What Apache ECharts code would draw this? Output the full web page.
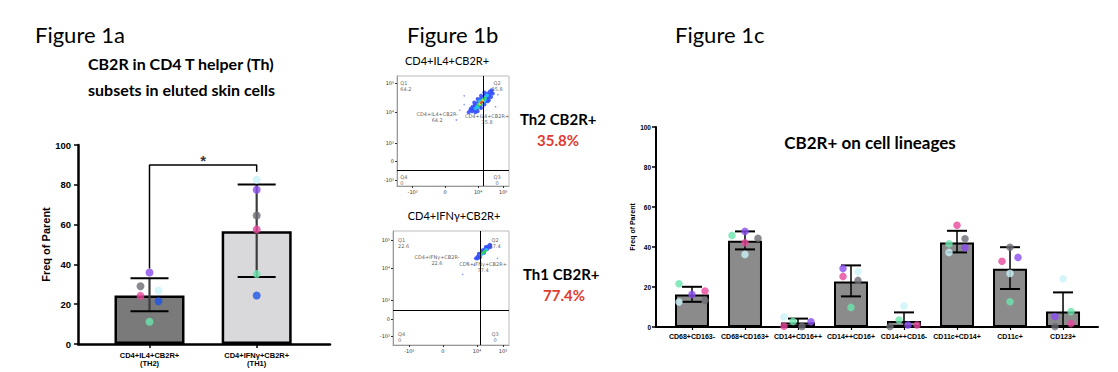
<!DOCTYPE html>
<html><head><meta charset="utf-8">
<script src="https://cdn.jsdelivr.net/npm/echarts@6/dist/echarts.min.js"></script>
<style>html,body{margin:0;padding:0;background:#fff}#c{width:1118px;height:372px}</style>
</head><body><div id="c"></div>
<script>
// ---------- Figure 1a data ----------
const TH_CATEGORIES = ['CD4+IL4+CB2R+\n(TH2)', 'CD4+IFNγ+CB2R+\n(TH1)'];
const TH_MEAN = [24.4, 56.6];
const TH_ERR_LOW = [16.4, 33.7];
const TH_ERR_HIGH = [33.1, 80.1];
const TH_PURPLE = [35.9, 77.5];
const TH_GRAY = [29.0, 64.6];
const TH_PINK = [24.2, 57.6];
const TH_CYAN = [26.9, 82.6];
const TH_BLUE = [21.5, 24.4];
const TH_GREEN = [11.2, 35.1];
const TH_BRACKET_LEFT_FOOT = 38;
const TH_BRACKET_TOP = 90;
const TH_BRACKET_RIGHT_FOOT = 86.5;
const TH_SIG_MARK = '*';
const Y_MIN = 0, Y_MAX = 100, Y_INTERVAL = 20;

// ---------- Figure 1b data (flow cytometry) ----------
const FLOW_X_TICKS = [140, 430, 724, 948];
const FLOW_X_LABELS = ['-10³', '0', '10⁴', '10⁵'];
const FLOW1_Y_TICKS = [54, 223, 393, 670, 938];
const FLOW2_Y_TICKS = [79, 228, 395, 675, 921];
const FLOW_Y_LABELS = ['-10³', '0', '10³', '10⁴', '10⁵'];
const FLOW1_TITLE = 'CD4+IL4+CB2R+';
const FLOW2_TITLE = 'CD4+IFNγ+CB2R+';
const FLOW1_QUAD = ['Q1\n64.2', 'Q2\n35.8', 'Q3\n0', 'Q4\n0'];
const FLOW2_QUAD = ['Q1\n22.6', 'Q2\n77.4', 'Q3\n0', 'Q4\n0'];
const FLOW1_GATES = ['CD4+IL4+CB2R-\n64.2', 'CD4+IL4+CB2R+\n35.8'];
const FLOW2_GATES = ['CD4+IFNγ+CB2R-\n22.6', 'CD4+IFNγ+CB2R+\n77.4'];
const FLOW1_GATE_X = 766, FLOW1_GATE_Y = 143;
const FLOW2_GATE_X = 756, FLOW2_GATE_Y = 307;
// events [x channel, y channel, density level 0..5] (0 = sparse outlier)
const FLOW1_EVENTS = [
  [560,690,0],[600,740,0],[900,830,0],[530,600,0],[880,720,0],[600,820,0],
  [640,670,1],[655,690,1],[670,680,1],[680,705,1],[690,690,1],[700,720,1],[715,705,1],[725,735,1],
  [740,725,1],[750,755,1],[765,745,1],[775,775,1],[790,770,1],[800,800,1],[815,795,1],[825,825,1],
  [840,850,1],[845,870,1],[830,860,1],[810,840,1],[795,830,1],[780,815,1],[765,800,1],[745,790,1],
  [730,770,1],[710,750,1],[695,735,1],[675,720,1],[660,705,1],[855,840,1],[820,780,1],[700,670,1],
  [690,760,1],[720,790,1],[750,820,1],[780,850,1],[720,680,1],[750,710,1],[780,740,1],[810,770,1],[840,810,1],
  [700,705,2],[715,725,2],[730,745,2],[745,765,2],[760,780,2],[775,795,2],[790,810,2],[805,825,2],[725,715,2],[780,770,2],
  [735,770,2],[765,745,2],[790,790,2],
  [725,735,3],[740,750,3],[755,765,3],[770,785,3],[785,800,3],[745,740,3],
  [740,745,4],[755,760,4],[765,775,4],
  [750,755,5],[758,765,5]
];
const FLOW2_EVENTS = [
  [700,700,0],[640,720,0],[600,620,0],[900,760,0],
  [715,760,1],[730,775,1],[745,790,1],[760,805,1],[775,820,1],[790,835,1],[805,850,1],[820,865,1],
  [835,880,1],[750,770,1],[785,810,1],[815,845,1],[740,800,1],[770,830,1],[800,860,1],[730,760,1],[840,860,1],
  [760,790,2],[775,805,2],[790,820,2],[805,835,2],
  [780,810,3],[795,825,3]
];
const TH2_LABEL = 'Th2 CB2R+', TH2_PCT = '35.8%';
const TH1_LABEL = 'Th1 CB2R+', TH1_PCT = '77.4%';

// ---------- Figure 1c data ----------
const LIN_CATEGORIES = ['CD68+CD163-','CD68+CD163+','CD14+CD16++','CD14++CD16+','CD14++CD16-','CD11c+CD14+','CD11c+','CD123+'];
const LIN_MEAN = [16.3, 43.1, 2.2, 22.8, 3.0, 42.3, 29.1, 7.7];
const LIN_ERR_LOW = [12.6, 38.8, 0.2, 15.3, 0, 37.3, 19.0, 0];
const LIN_ERR_HIGH = [20.1, 47.8, 4.2, 30.8, 7.3, 48.1, 39.9, 17.3];
const LIN_GREEN = [21.6, 45.8, 2.8, 9.8, 3.5, 41.6, 12.6, 7.7];
const LIN_PURPLE = [16.3, 47.8, 2.6, 29.3, 1.0, 39.6, 34.8, 5.2];
const LIN_PINK = [18.0, 42.1, 0.4, 25.3, 1.0, 50.9, 32.9, 1.7];
const LIN_CYAN = [12.5, 36.3, 5.0, 27.6, 10.5, 37.3, 26.8, 24.1];
const LIN_GRAY = [13.3, 44.4, 0.3, 23.3, 0.3, 44.1, 39.9, 0.2];

// ---------- styles / layout ----------
const C = {green:'#6be6ad', purple:'#8a4cf0', pink:'#e8479c', cyan:'#c9f3f8', gray:'#6e6c74', blue:'#1d55e8'};
const TH_JITTER = {purple:[0,0], gray:[-9,0], pink:[-9,0], cyan:[9,0], blue:[9,0], green:[0,0]};
const LIN_JITTER = {
  green:[-13,-13,-5,0,-5,-8,0,8], purple:[0,0,13,-8,4,8,8,-8], pink:[13,0,-14,-8,13,0,-8,8],
  cyan:[-13,0,-14,7,0,-8,0,0], gray:[13,13,4,7,-14,8,0,-8]
};
const AX = '"Liberation Sans", Arial, sans-serif';
const FLOWF = '"DejaVu Sans", sans-serif';
const DENS_COLORS = ['#7d93ff','#3550ff','#27c6f2','#35d24a','#f2e32c','#f03a2a'];
const DENS_SIZES = [1.6, 4, 3.4, 3, 2.6, 2.3];

const chart = echarts.init(document.getElementById('c'), null, {renderer:'svg'});

function errRender(halfW, vColor, vWidth) {
  return function (params, api) {
    const x = api.value(0), lo = Math.max(0, api.value(1)), hi = api.value(2);
    const a = api.coord([x, hi]), b = api.coord([x, lo]);
    const kids = [
      {type:'line', shape:{x1:a[0],y1:a[1],x2:b[0],y2:b[1]}, style:{stroke:vColor, lineWidth:vWidth}},
      {type:'line', shape:{x1:a[0]-halfW,y1:a[1],x2:a[0]+halfW,y2:a[1]}, style:{stroke:'#000', lineWidth:2}}
    ];
    if (lo > 0) kids.push({type:'line', shape:{x1:b[0]-halfW,y1:b[1],x2:b[0]+halfW,y2:b[1]}, style:{stroke:'#000', lineWidth:2}});
    return {type:'group', children:kids};
  };
}

function thPoints(vals, jit, color){
  return {type:'scatter', xAxisIndex:0, yAxisIndex:0, symbolSize:8, z:5, itemStyle:{color:color},
    data: vals.map((v,i)=>({value:[i+1, v], symbolOffset:[jit[i], 0]}))};
}

function flowAxes(gi, yTicks) {
  const lab = {fontSize:5, color:'#333', fontFamily:FLOWF};
  return {
    x: {gridIndex:gi, type:'value', min:0, max:1000, splitLine:{show:false},
        axisLine:{lineStyle:{color:'#999', width:1}},
        axisTick:{customValues:FLOW_X_TICKS, length:2, lineStyle:{color:'#333'}},
        axisLabel:Object.assign({customValues:FLOW_X_TICKS, margin:3,
          formatter:v=>FLOW_X_LABELS[FLOW_X_TICKS.indexOf(v)]}, lab)},
    y: {gridIndex:gi, type:'value', min:0, max:1000, splitLine:{show:false},
        axisLine:{lineStyle:{color:'#999', width:1}},
        axisTick:{customValues:yTicks, length:2, lineStyle:{color:'#333'}},
        axisLabel:Object.assign({customValues:yTicks, margin:3,
          formatter:v=>FLOW_Y_LABELS[yTicks.indexOf(v)]}, lab)}
  };
}
const f1 = flowAxes(1, FLOW1_Y_TICKS), f2 = flowAxes(2, FLOW2_Y_TICKS);

function flowSeries(ai, events, gx, gy, quad, gates, qAnchors, gAnchors) {
  const s = [];
  s.push({type:'scatter', xAxisIndex:ai, yAxisIndex:ai, data:[], silent:true,
    markLine:{symbol:'none', silent:true, animation:false, label:{show:false},
      lineStyle:{color:'#000', width:1, type:'solid'}, data:[{xAxis:gx},{yAxis:gy}]}});
  for (let d = 0; d <= 5; d++) {
    const pts = events.filter(e=>e[2]===d).map(e=>[e[0], e[1]]);
    if (!pts.length) continue;
    s.push({type:'scatter', xAxisIndex:ai, yAxisIndex:ai, symbolSize:DENS_SIZES[d], z:2+d,
      itemStyle:{color:DENS_COLORS[d], opacity:0.9}, data:pts, silent:true});
  }
  const lab = (txt, pos, align, vAlign) => ({value:pos, label:{show:true, formatter:txt, align:align, verticalAlign:vAlign}});
  s.push({type:'scatter', xAxisIndex:ai, yAxisIndex:ai, symbolSize:0.01, itemStyle:{color:'transparent'}, z:10, silent:true,
    label:{show:true, position:[0,0], fontSize:5, lineHeight:6, color:'#333', fontFamily:FLOWF},
    data:[
      lab(quad[0], qAnchors[0], 'left', 'top'), lab(quad[1], qAnchors[1], 'center', 'top'),
      lab(quad[2], qAnchors[2], 'center', 'top'), lab(quad[3], qAnchors[3], 'left', 'top'),
      lab(gates[0], gAnchors[0], 'center', 'middle'), lab(gates[1], gAnchors[1], 'center', 'middle')
    ]});
  return s;
}

const series = [];
// Figure 1a
series.push({type:'bar', xAxisIndex:0, yAxisIndex:0, barWidth:70, z:1,
  itemStyle:{borderColor:'#000', borderWidth:2.5},
  data: TH_MEAN.map((v,i)=>({value:[i+1, v], itemStyle:{color: i===0 ? '#7a7a7a' : '#d9d9dc'}}))});
series.push({type:'custom', xAxisIndex:0, yAxisIndex:0, z:3, renderItem: errRender(19, '#3c3c3c', 2.2),
  encode:{x:0, y:[1,2]}, data: TH_MEAN.map((v,i)=>[i+1, TH_ERR_LOW[i], TH_ERR_HIGH[i]])});
series.push(thPoints(TH_GREEN, TH_JITTER.green, C.green));
series.push(thPoints(TH_BLUE, TH_JITTER.blue, C.blue));
series.push(thPoints(TH_PINK, TH_JITTER.pink, C.pink));
series.push(thPoints(TH_GRAY, TH_JITTER.gray, C.gray));
series.push(thPoints(TH_CYAN, TH_JITTER.cyan, C.cyan));
series.push(thPoints(TH_PURPLE, TH_JITTER.purple, C.purple));
series.push({type:'line', xAxisIndex:0, yAxisIndex:0, symbol:'none', z:2, silent:true,
  lineStyle:{color:'#000', width:1.5},
  data:[[1, TH_BRACKET_LEFT_FOOT],[1, TH_BRACKET_TOP],[2, TH_BRACKET_TOP],[2, TH_BRACKET_RIGHT_FOOT]]});
series.push({type:'scatter', xAxisIndex:0, yAxisIndex:0, symbolSize:0.01, itemStyle:{color:'transparent'}, silent:true,
  label:{show:true, position:'inside', formatter:TH_SIG_MARK, fontFamily:AX, fontWeight:'bold', fontSize:15, color:'#000'},
  data:[[1.5, TH_BRACKET_TOP + 2]]});

// Figure 1b
series.push(...flowSeries(1, FLOW1_EVENTS, FLOW1_GATE_X, FLOW1_GATE_Y, FLOW1_QUAD, FLOW1_GATES,
  [[30,968],[893,968],[893,110],[30,110]], [[359,625],[804,607]]));
series.push(...flowSeries(2, FLOW2_EVENTS, FLOW2_GATE_X, FLOW2_GATE_Y, FLOW2_QUAD, FLOW2_GATES,
  [[43,945],[880,945],[880,125],[43,125]], [[379,746],[776,684]]));

// Figure 1c
series.push({type:'bar', xAxisIndex:3, yAxisIndex:3, barWidth:34, z:1,
  itemStyle:{color:'#8b8b8b', borderColor:'#000', borderWidth:2},
  data: LIN_MEAN.map((v,i)=>[i+1, v])});
series.push({type:'custom', xAxisIndex:3, yAxisIndex:3, z:3, renderItem: errRender(10, '#000', 1.5),
  encode:{x:0, y:[1,2]}, data: LIN_MEAN.map((v,i)=>[i+1, LIN_ERR_LOW[i], LIN_ERR_HIGH[i]])});
function linPoints(vals, jit, color){
  return {type:'scatter', xAxisIndex:3, yAxisIndex:3, symbolSize:7.5, z:5, itemStyle:{color:color},
    data: vals.map((v,i)=>({value:[i+1, v], symbolOffset:[jit[i], 0]}))};
}
series.push(linPoints(LIN_GREEN, LIN_JITTER.green, C.green));
series.push(linPoints(LIN_CYAN, LIN_JITTER.cyan, C.cyan));
series.push(linPoints(LIN_GRAY, LIN_JITTER.gray, C.gray));
series.push(linPoints(LIN_PINK, LIN_JITTER.pink, C.pink));
series.push(linPoints(LIN_PURPLE, LIN_JITTER.purple, C.purple));

const yAxBase = (gi, fs, name, gap, nfs, lw) => ({
  gridIndex:gi, type:'value', min:Y_MIN, max:Y_MAX, interval:Y_INTERVAL, splitLine:{show:false},
  axisLine:{show:true, lineStyle:{color:'#000', width:lw}},
  axisTick:{show:true, length:4, lineStyle:{color:'#000', width:1.5}},
  axisLabel:{fontFamily:AX, fontWeight:'bold', fontSize:fs, color:'#000', margin: fs>8?7:5},
  name:name, nameLocation:'middle', nameGap:gap,
  nameTextStyle:{fontFamily:AX, fontWeight:'bold', fontSize:nfs, color:'#000'}
});

const txt = (x, y, text, font, color, align) => ({type:'text', x:x, y:y, silent:true,
  style:{text:text, font:font, fill:color||'#000', align:align||'left', verticalAlign:'middle'}});

chart.setOption({
  animation:false,
  backgroundColor:'#fff',
  grid:[
    {left:78, top:145, width:252, height:199},
    {left:397, top:76, width:112, height:110, show:true, borderColor:'#bbb', borderWidth:1},
    {left:393, top:231, width:116, height:114, show:true, borderColor:'#bbb', borderWidth:1},
    {left:656, top:127, width:442, height:200}
  ],
  xAxis:[
    {gridIndex:0, type:'value', min:0.333, max:2.684, splitLine:{show:false},
      axisLine:{lineStyle:{color:'#000', width:2.5}},
      axisTick:{customValues:[1,2], length:4, lineStyle:{color:'#000', width:1.5}},
      axisLabel:{customValues:[1,2], formatter:v=>TH_CATEGORIES[Math.round(v)-1],
        fontFamily:AX, fontWeight:'bold', fontSize:7.5, lineHeight:8.5, color:'#000', margin:7}},
    f1.x, f2.x,
    {gridIndex:3, type:'value', min:0.321, max:8.66, splitLine:{show:false},
      axisLine:{lineStyle:{color:'#000', width:2}},
      axisTick:{customValues:[1,2,3,4,5,6,7,8], length:3, lineStyle:{color:'#000', width:1.2}},
      axisLabel:{customValues:[1,2,3,4,5,6,7,8], formatter:v=>LIN_CATEGORIES[Math.round(v)-1],
        fontFamily:AX, fontWeight:'bold', fontSize:7, color:'#000', margin:6}}
  ],
  yAxis:[
    yAxBase(0, 9.5, 'Freq of Parent', 27, 11, 2.5),
    f1.y, f2.y,
    yAxBase(3, 6.5, 'Freq of Parent', 19, 7, 2)
  ],
  graphic:[
    txt(35, 34, 'Figure 1a', '22px Lato', '#000'),
    txt(88, 63, 'CB2R in CD4 T helper (Th)', 'bold 16px Lato', '#000'),
    txt(88, 89, 'subsets in eluted skin cells', 'bold 16px Lato', '#000'),
    txt(407, 34, 'Figure 1b', '22px Lato', '#000'),
    txt(675, 34, 'Figure 1c', '22px Lato', '#000'),
    txt(447, 60, FLOW1_TITLE, '11px Lato', '#000', 'center'),
    txt(454, 215, FLOW2_TITLE, '11px Lato', '#000', 'center'),
    txt(520, 119, TH2_LABEL, 'bold 15px Lato', '#000'),
    txt(558, 140, TH2_PCT, 'bold 15px Lato', '#e03b30', 'center'),
    txt(523, 274, TH1_LABEL, 'bold 15px Lato', '#000'),
    txt(564, 295, TH1_PCT, 'bold 15px Lato', '#e03b30', 'center'),
    txt(870, 142, 'CB2R+ on cell lineages', 'bold 17px Lato', '#000', 'center')
  ],
  series:series
});
</script></body></html>
